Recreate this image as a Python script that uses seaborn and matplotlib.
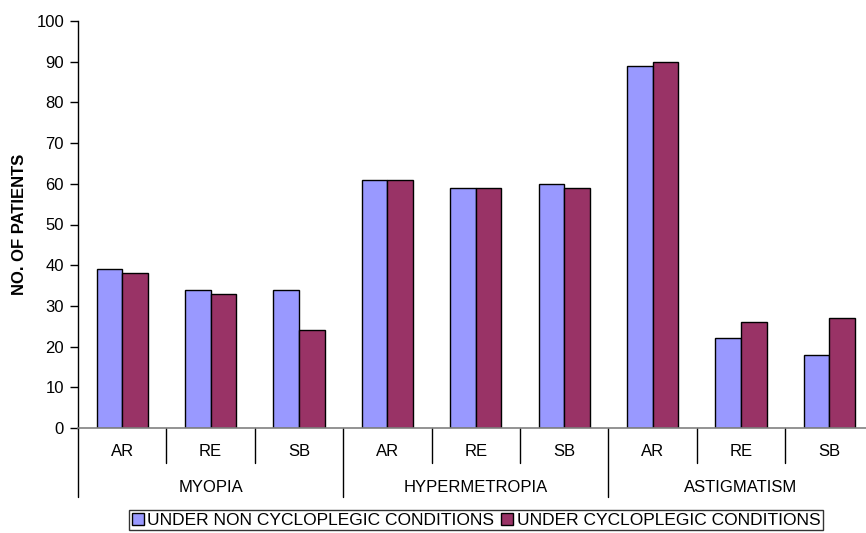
import matplotlib
matplotlib.use("Agg")
import matplotlib.pyplot as plt
import matplotlib.transforms as mtrans
import seaborn as sns
import pandas as pd

# ---- data ----
groups = ["MYOPIA", "HYPERMETROPIA", "ASTIGMATISM"]
methods = ["AR", "RE", "SB"]
series_names = ["UNDER NON CYCLOPLEGIC CONDITIONS", "UNDER CYCLOPLEGIC CONDITIONS"]
non_cyclo = [39, 34, 34, 61, 59, 60, 89, 22, 18]
cyclo = [38, 33, 24, 61, 59, 59, 90, 26, 27]
y_ticks = list(range(0, 101, 10))

colors = ["#9999FF", "#993366"]

cats = [f"{g}|{m}" for g in groups for m in methods]
rows = []
for name, vals in zip(series_names, [non_cyclo, cyclo]):
    for c, v in zip(cats, vals):
        rows.append({"cat": c, "series": name, "value": v})
df = pd.DataFrame(rows)

sns.set_style("white")
plt.rcParams["font.family"] = ["Liberation Sans", "DejaVu Sans"]
plt.rcParams["text.color"] = "black"
plt.rcParams["axes.labelcolor"] = "black"
plt.rcParams["xtick.color"] = "black"
plt.rcParams["ytick.color"] = "black"

W, H = 866, 533
fig = plt.figure(figsize=(W / 100, H / 100), dpi=100)
ax_left, ax_top, ax_bottom = 78, 21, 428
group_px = 88.4
ax = fig.add_axes([ax_left / W, 1 - ax_bottom / H, (W - ax_left) / W, (ax_bottom - ax_top) / H])

sns.barplot(data=df, x="cat", y="value", hue="series", order=cats,
            hue_order=series_names, palette=dict(zip(series_names, colors)),
            width=0.58, gap=0, edgecolor="black", linewidth=1.0, saturation=1,
            ax=ax, legend=True)

handles, labels = ax.get_legend_handles_labels()
ax.get_legend().remove()

ax.set_xlim(-0.5, -0.5 + (W - ax_left) / group_px)
ax.set_ylim(0, 100)
ax.set_yticks(y_ticks)
ax.set_yticklabels([str(t) for t in y_ticks], fontsize=12, color="black")
ax.tick_params(axis="y", direction="out", length=6, width=1, color="black", pad=4, left=True)
ax.set_xticks([])
ax.set_xlabel("")
ax.set_ylabel("NO. OF PATIENTS", fontsize=12, fontweight="bold", labelpad=7, color="black")

for s in ["top", "right"]:
    ax.spines[s].set_visible(False)
ax.spines["left"].set_color("black")
ax.spines["left"].set_linewidth(1)
ax.spines["bottom"].set_color("#808080")
ax.spines["bottom"].set_linewidth(1.2)

ax_h = ax_bottom - ax_top
trans = mtrans.blended_transform_factory(ax.transData, ax.transAxes)
inner_y = -(463 - ax_bottom) / ax_h
outer_y = -(497 - ax_bottom) / ax_h
for i in range(len(cats) + 1):
    x = i - 0.5
    y0 = outer_y if i % 3 == 0 else inner_y
    ax.plot([x, x], [0, y0], transform=trans, color="black", lw=1, clip_on=False)

lab_y = -(452 - ax_bottom) / ax_h
grp_y = -(487 - ax_bottom) / ax_h
for i, c in enumerate(cats):
    ax.text(i, lab_y, c.split("|")[1], transform=trans, ha="center", va="center",
            fontsize=12, color="black")
for j, g in enumerate(groups):
    ax.text(j * 3 + 1, grp_y, g, transform=trans, ha="center", va="center",
            fontsize=12, color="black")

leg = fig.legend(handles, labels, loc="upper center", bbox_to_anchor=(476 / W, 1 - 510 / H),
                 ncol=2, fontsize=12.5, frameon=True, fancybox=False, shadow=False,
                 handlelength=0.7, handleheight=0.7, handletextpad=0.2,
                 columnspacing=0.4, borderpad=0.15, borderaxespad=0, labelcolor="black")
leg.get_frame().set_edgecolor("black")
leg.get_frame().set_linewidth(1)

fig.savefig("out.png", dpi=100)
